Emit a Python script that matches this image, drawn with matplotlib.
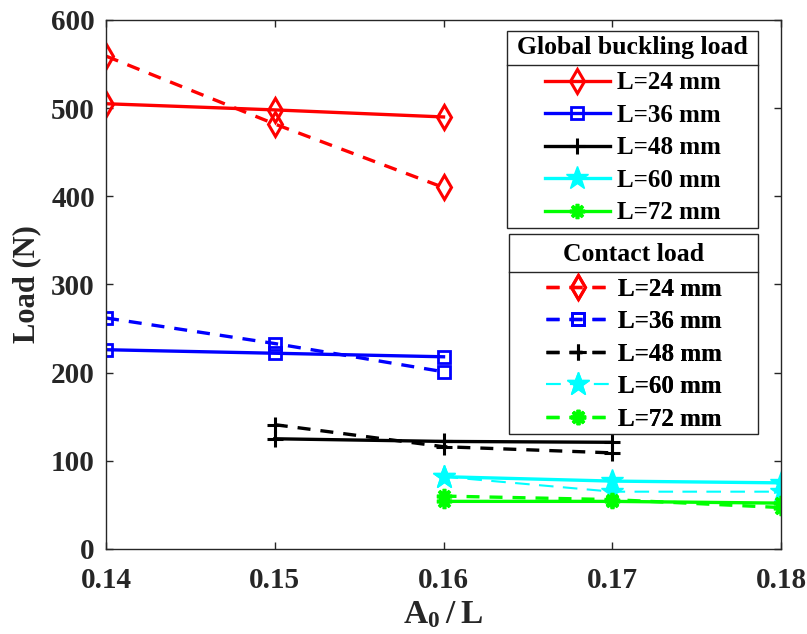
import matplotlib
matplotlib.use("Agg")
import matplotlib.pyplot as plt
from matplotlib.patches import Rectangle

plt.rcParams["font.family"] = ["Liberation Serif", "DejaVu Serif"]
plt.rcParams["font.weight"] = "bold"
plt.rcParams["mathtext.fontset"] = "custom"
plt.rcParams["mathtext.rm"] = "Liberation Serif:bold"
plt.rcParams["mathtext.bf"] = "Liberation Serif:bold"

LABELS = ["L=24 mm", "L=36 mm", "L=48 mm", "L=60 mm", "L=72 mm"]
COLOURS = ["#ff0000", "#0000ff", "#000000", "#00ffff", "#00ff00"]
MARKERS = ["d", "s", "+", "*", (8, 2, 0)]

# A0/L values for each length
X_24 = [0.14, 0.15, 0.16]
X_36 = [0.14, 0.15, 0.16]
X_48 = [0.15, 0.16, 0.17]
X_60 = [0.16, 0.17, 0.18]
X_72 = [0.16, 0.17, 0.18]

# global buckling load (N)
GLOBAL_24 = [505, 498, 490]
GLOBAL_36 = [226, 222, 218]
GLOBAL_48 = [125, 122, 121]
GLOBAL_60 = [82, 77, 75]
GLOBAL_72 = [54, 54, 52]

# contact load (N)
CONTACT_24 = [559, 482, 410]
CONTACT_36 = [262, 233, 201]
CONTACT_48 = [141, 116, 109]
CONTACT_60 = [82, 65, 65]
CONTACT_72 = [60, 56, 47]

XS = [X_24, X_36, X_48, X_60, X_72]
GLOBAL = [GLOBAL_24, GLOBAL_36, GLOBAL_48, GLOBAL_60, GLOBAL_72]
CONTACT = [CONTACT_24, CONTACT_36, CONTACT_48, CONTACT_60, CONTACT_72]

AXCOL = "#262626"


def marker_style(m, colour):
    if m == "d":
        return dict(marker=m, markersize=12, markerfacecolor="none",
                    markeredgecolor=colour, markeredgewidth=2.2)
    if m == "s":
        return dict(marker=m, markersize=8, markerfacecolor="none",
                    markeredgecolor=colour, markeredgewidth=2.0)
    if m == "+":
        return dict(marker=m, markersize=11, markeredgecolor=colour,
                    markeredgewidth=2.2)
    if m == "*":
        return dict(marker=m, markersize=17, markerfacecolor=colour,
                    markeredgecolor=colour, markeredgewidth=1.0)
    return dict(marker=m, markersize=11, markeredgecolor=colour,
                markeredgewidth=2.6)


fig = plt.figure(figsize=(8.07, 6.34), dpi=100)
ax = fig.add_axes([0.1314, 0.1341, 0.8364, 0.8344])


def axpos(px, py):
    # figure pixels (from top-left) -> axes fraction
    return (px - 106) / 675, (549 - py) / 529


global_lines = []
contact_lines = []
for x, g, c, col, m in zip(XS, GLOBAL, CONTACT, COLOURS, MARKERS):
    ln, = ax.plot(x, g, color=col, linewidth=2.4, **marker_style(m, col))
    global_lines.append(ln)
    if col == "#00ffff":
        lw, dash = 1.5, (0, (7, 4.5))
    else:
        lw, dash = 2.4, (0, (3.9, 3.0))
    ln2, = ax.plot(x, c, color=col, linewidth=lw, linestyle=dash,
                   **marker_style(m, col))
    contact_lines.append(ln2)

ax.set_xlim(0.14, 0.18)
ax.set_ylim(0, 600)
ax.set_xticks([0.14, 0.15, 0.16, 0.17, 0.18])
ax.set_xticklabels(["0.14", "0.15", "0.16", "0.17", "0.18"])
ax.set_yticks([0, 100, 200, 300, 400, 500, 600])
ax.tick_params(direction="in", length=5, width=1, colors=AXCOL,
               labelsize=21, top=True, right=True)
ax.tick_params(axis="x", pad=13)
ax.tick_params(axis="y", pad=8)
for t in ax.get_xticklabels() + ax.get_yticklabels():
    t.set_fontweight("bold")
for s in ax.spines.values():
    s.set_color(AXCOL)
    s.set_linewidth(1.0)

ax.set_xlabel(r"$\mathbf{A_0}\,/\,\mathbf{L}$", fontsize=24, color=AXCOL, labelpad=4)
ax.set_ylabel("Load (N)", fontsize=22, fontweight="bold", color=AXCOL, labelpad=7)

# legend boxes: frame, title, rule under the title, entries
boxes = [
    dict(title="Global buckling load", lines=global_lines,
         left=507, right=758, top=31, bottom=228, title_y=48, rule_y=65,
         rows=(84, 212)),
    dict(title="Contact load", lines=contact_lines,
         left=509, right=758, top=234, bottom=434, title_y=255, rule_y=272.5,
         rows=(291.5, 417)),
]
for b in boxes:
    x0, y0 = axpos(b["left"], b["bottom"])
    x1, y1 = axpos(b["right"], b["top"])
    ax.add_patch(Rectangle((x0, y0), x1 - x0, y1 - y0, transform=ax.transAxes,
                           facecolor="white", edgecolor=AXCOL, linewidth=1.0,
                           clip_on=False, zorder=4.8))
    _, ry = axpos(0, b["rule_y"])
    ax.plot([x0, x1], [ry, ry], transform=ax.transAxes, color=AXCOL,
            linewidth=1.0, clip_on=False, zorder=4.9)
    cx = (x0 + x1) / 2
    _, ty = axpos(0, b["title_y"])
    ax.text(cx, ty, b["title"], transform=ax.transAxes, ha="center",
            va="center", fontsize=18.5, fontweight="bold", color="black",
            zorder=6)
    _, ey = axpos(0, sum(b["rows"]) / 2)
    lg = ax.legend(b["lines"], LABELS, loc="center", bbox_to_anchor=(cx, ey),
                   frameon=False, fontsize=18, handlelength=2.6,
                   handletextpad=0.28, labelspacing=0.38, borderpad=0,
                   borderaxespad=0)
    lg.set_zorder(5)
    for t in lg.get_texts():
        t.set_fontweight("bold")
    ax.add_artist(lg)

fig.savefig("out.png", dpi=100)
